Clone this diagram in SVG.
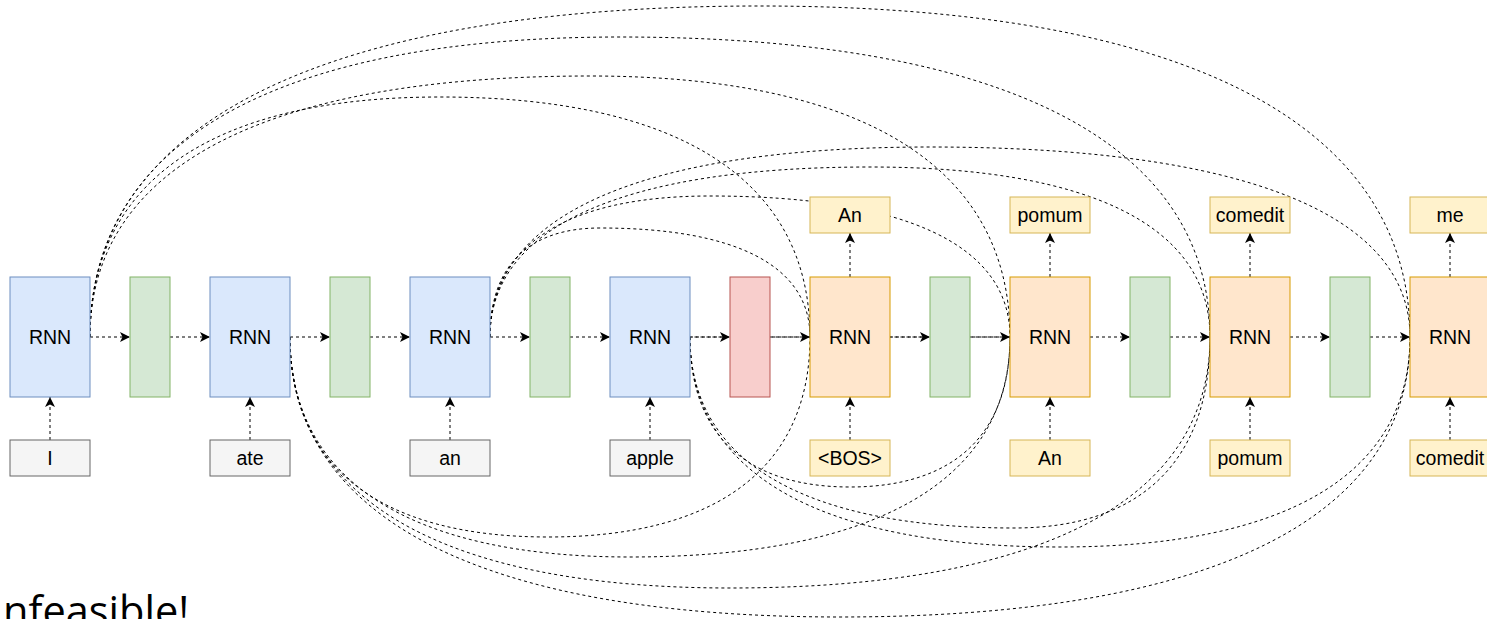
<svg xmlns="http://www.w3.org/2000/svg" width="1487" height="619" viewBox="0 0 1487 619">
<style>
.enc{fill:#dae8fc;stroke:#6c8ebf;stroke-width:1}
.grn{fill:#d5e8d4;stroke:#82b366;stroke-width:1}
.red{fill:#f8cecc;stroke:#b85450;stroke-width:1}
.dec{fill:#ffe6cc;stroke:#d79b00;stroke-width:1}
.out{fill:#fff2cc;stroke:#d6b656;stroke-width:1}
.inp{fill:#f5f5f5;stroke:#666666;stroke-width:1}
.lbl{font-family:Helvetica,"Liberation Sans",Arial,sans-serif;font-size:19.5px;text-anchor:middle;fill:#000}
.arr{fill:none;stroke:#000;stroke-width:1;stroke-dasharray:3 3;marker-end:url(#ah)}
.att{fill:none;stroke:#000;stroke-width:1;stroke-dasharray:3 3}
.big{font-family:"Open Sans","Liberation Sans",sans-serif;font-size:41.5px;fill:#000}
</style>
<defs>
<marker id="ah" viewBox="0 0 10 10" refX="10" refY="5" markerWidth="11" markerHeight="10" markerUnits="userSpaceOnUse" orient="auto">
<path d="M0,0 L10,5 L0,10 L2.5,5 z" fill="#000" stroke="none"/>
</marker>
</defs>
<rect width="1487" height="619" fill="#fff"/>
<g id="connectors">
<path class="att" d="M90 337 C90 181 212.5 97 440 97 C680.5 97 810 181 810 337"/>
<path class="att" d="M90 337 C90 167 265 76 590 76 C863 76 1010 167 1010 337"/>
<path class="att" d="M90 337 C90 142 275.5 37 620 37 C1003.5 37 1210 142 1210 337"/>
<path class="att" d="M90 337 C90 122 324.5 6 760 6 C1182.5 6 1410 122 1410 337"/>
<path class="att" d="M490 337 C490 266 528.5 228 600 228 C736.5 228 810 266 810 337"/>
<path class="att" d="M490 337 C490 245 567 196 710 196 C905 196 1010 245 1010 337"/>
<path class="att" d="M490 337 C490 226.5 623 167 870 167 C1091 167 1210 226.5 1210 337"/>
<path class="att" d="M490 337 C490 213.5 644 147 930 147 C1242 147 1410 213.5 1410 337"/>
<path class="att" d="M290 337 C290 467 380 537 548 537 C718 537 810 467 810 337"/>
<path class="att" d="M290 337 C290 480 409 557 630 557 C877 557 1010 480 1010 337"/>
<path class="att" d="M290 337 C290 500 444 588 730 588 C1042 588 1210 500 1210 337"/>
<path class="att" d="M290 337 C290 519 482.5 617 840 617 C1210.5 617 1410 519 1410 337"/>
<path class="att" d="M690 337 C690 434.5 746 487 850 487 C954 487 1010 434.5 1010 337"/>
<path class="att" d="M690 337 C690 461 803 528 1014 528 C1141 528 1210 461 1210 337"/>
<path class="att" d="M690 337 C690 473.5 819.5 547 1060 547 C1287.5 547 1410 473.5 1410 337"/>
<path class="att" d="M690 337 L810 337" stroke-dashoffset="1.5"/>
<path class="att" d="M890 337 L1010 337" stroke-dashoffset="1.5"/>
<path class="arr" d="M90 337 L130 337"/>
<path class="arr" d="M170 337 L210 337"/>
<path class="arr" d="M290 337 L330 337"/>
<path class="arr" d="M370 337 L410 337"/>
<path class="arr" d="M490 337 L530 337"/>
<path class="arr" d="M570 337 L610 337"/>
<path class="arr" d="M690 337 L730 337"/>
<path class="arr" d="M770 337 L810 337"/>
<path class="arr" d="M890 337 L930 337"/>
<path class="arr" d="M970 337 L1010 337"/>
<path class="arr" d="M1090 337 L1130 337"/>
<path class="arr" d="M1170 337 L1210 337"/>
<path class="arr" d="M1290 337 L1330 337"/>
<path class="arr" d="M1370 337 L1410 337"/>
<path class="arr" d="M50 440 L50 397"/>
<path class="arr" d="M250 440 L250 397"/>
<path class="arr" d="M450 440 L450 397"/>
<path class="arr" d="M650 440 L650 397"/>
<path class="arr" d="M850 440 L850 397"/>
<path class="arr" d="M1050 440 L1050 397"/>
<path class="arr" d="M1250 440 L1250 397"/>
<path class="arr" d="M1450 440 L1450 397"/>
<path class="arr" d="M850 277 L850 233"/>
<path class="arr" d="M1050 277 L1050 233"/>
<path class="arr" d="M1250 277 L1250 233"/>
<path class="arr" d="M1450 277 L1450 233"/>
</g>
<g id="enc1"><rect class="enc" x="10" y="277" width="80" height="120"/><text class="lbl" x="50" y="344">RNN</text></g>
<g id="enc2"><rect class="enc" x="210" y="277" width="80" height="120"/><text class="lbl" x="250" y="344">RNN</text></g>
<g id="enc3"><rect class="enc" x="410" y="277" width="80" height="120"/><text class="lbl" x="450" y="344">RNN</text></g>
<g id="enc4"><rect class="enc" x="610" y="277" width="80" height="120"/><text class="lbl" x="650" y="344">RNN</text></g>
<g id="g1"><rect class="grn" x="130" y="277" width="40" height="120"/></g>
<g id="g2"><rect class="grn" x="330" y="277" width="40" height="120"/></g>
<g id="g3"><rect class="grn" x="530" y="277" width="40" height="120"/></g>
<g id="ctx"><rect class="red" x="730" y="277" width="40" height="120"/></g>
<g id="g4"><rect class="grn" x="930" y="277" width="40" height="120"/></g>
<g id="g5"><rect class="grn" x="1130" y="277" width="40" height="120"/></g>
<g id="g6"><rect class="grn" x="1330" y="277" width="40" height="120"/></g>
<g id="dec1"><rect class="dec" x="810" y="277" width="80" height="120"/><text class="lbl" x="850" y="344">RNN</text></g>
<g id="dec2"><rect class="dec" x="1010" y="277" width="80" height="120"/><text class="lbl" x="1050" y="344">RNN</text></g>
<g id="dec3"><rect class="dec" x="1210" y="277" width="80" height="120"/><text class="lbl" x="1250" y="344">RNN</text></g>
<g id="dec4"><rect class="dec" x="1410" y="277" width="80" height="120"/><text class="lbl" x="1450" y="344">RNN</text></g>
<g id="in1"><rect class="inp" x="10" y="440" width="80" height="36"/><text class="lbl" x="50" y="465">I</text></g>
<g id="in2"><rect class="inp" x="210" y="440" width="80" height="36"/><text class="lbl" x="250" y="465">ate</text></g>
<g id="in3"><rect class="inp" x="410" y="440" width="80" height="36"/><text class="lbl" x="450" y="465">an</text></g>
<g id="in4"><rect class="inp" x="610" y="440" width="80" height="36"/><text class="lbl" x="650" y="465">apple</text></g>
<g id="in5"><rect class="out" x="810" y="440" width="80" height="36"/><text class="lbl" x="850" y="465">&lt;BOS&gt;</text></g>
<g id="in6"><rect class="out" x="1010" y="440" width="80" height="36"/><text class="lbl" x="1050" y="465">An</text></g>
<g id="in7"><rect class="out" x="1210" y="440" width="80" height="36"/><text class="lbl" x="1250" y="465">pomum</text></g>
<g id="in8"><rect class="out" x="1410" y="440" width="80" height="36"/><text class="lbl" x="1450" y="465">comedit</text></g>
<g id="out1"><rect class="out" x="810" y="197" width="80" height="36"/><text class="lbl" x="850" y="222">An</text></g>
<g id="out2"><rect class="out" x="1010" y="197" width="80" height="36"/><text class="lbl" x="1050" y="222">pomum</text></g>
<g id="out3"><rect class="out" x="1210" y="197" width="80" height="36"/><text class="lbl" x="1250" y="222">comedit</text></g>
<g id="out4"><rect class="out" x="1410" y="197" width="80" height="36"/><text class="lbl" x="1450" y="222">me</text></g>
<text class="big" x="3" y="626">nfeasible!</text>
</svg>
